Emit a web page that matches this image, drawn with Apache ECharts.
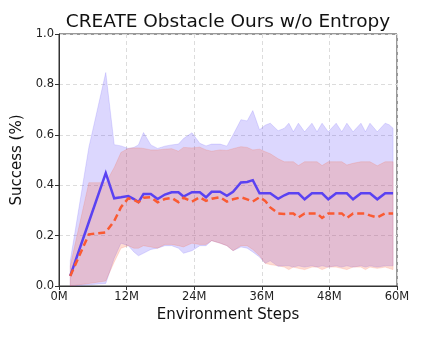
<!DOCTYPE html>
<html><head><meta charset="utf-8">
<script src="https://cdn.jsdelivr.net/npm/echarts@6/dist/echarts.min.js"></script>
<style>html,body{margin:0;padding:0;background:#fff}#c{width:422px;height:338px}</style>
</head><body><div id="c"></div>
<script>
// Environment steps (millions)
const steps = [2.0,5.3,8.3,9.8,11.0,12.3,13.3,14.1,15.0,16.3,17.5,18.8,20.0,21.2,22.1,23.6,25.0,26.1,27.1,28.6,29.8,30.9,32.3,33.4,34.4,35.6,36.6,37.5,38.9,40.0,40.8,41.6,42.5,43.6,44.9,45.8,46.7,47.8,49.2,50.2,51.1,52.2,53.6,54.4,55.2,56.5,57.9,58.6,59.3];
// solid blue series
const blueMean = [0.04,0.254,0.448,0.348,0.352,0.357,0.345,0.333,0.365,0.365,0.345,0.363,0.372,0.372,0.355,0.372,0.372,0.352,0.374,0.374,0.358,0.374,0.411,0.413,0.420,0.368,0.368,0.368,0.346,0.360,0.368,0.368,0.368,0.344,0.368,0.368,0.368,0.344,0.368,0.368,0.368,0.344,0.368,0.368,0.368,0.344,0.368,0.368,0.368];
const blueHigh = [0.10,0.55,0.847,0.561,0.556,0.546,0.55,0.56,0.609,0.56,0.546,0.555,0.56,0.563,0.585,0.608,0.566,0.556,0.563,0.563,0.555,0.60,0.66,0.655,0.696,0.62,0.638,0.646,0.616,0.626,0.646,0.612,0.646,0.612,0.646,0.612,0.646,0.612,0.646,0.612,0.646,0.612,0.646,0.612,0.646,0.612,0.646,0.640,0.626];
const blueLow = [0.0,0.005,0.01,0.11,0.17,0.16,0.135,0.12,0.13,0.145,0.15,0.16,0.16,0.15,0.13,0.14,0.16,0.16,0.18,0.17,0.16,0.14,0.155,0.15,0.135,0.115,0.09,0.10,0.078,0.08,0.08,0.075,0.08,0.075,0.08,0.075,0.08,0.075,0.08,0.075,0.08,0.075,0.08,0.075,0.08,0.075,0.08,0.08,0.08];
// dashed orange series
const orangeMean = [0.04,0.205,0.213,0.258,0.313,0.348,0.342,0.332,0.350,0.352,0.332,0.345,0.350,0.333,0.350,0.335,0.352,0.338,0.346,0.352,0.335,0.344,0.352,0.344,0.335,0.352,0.338,0.312,0.288,0.286,0.288,0.288,0.272,0.288,0.288,0.288,0.270,0.288,0.288,0.288,0.270,0.288,0.288,0.288,0.280,0.272,0.288,0.288,0.288];
const orangeHigh = [0.08,0.41,0.41,0.47,0.53,0.546,0.548,0.548,0.546,0.54,0.54,0.543,0.545,0.535,0.550,0.548,0.551,0.54,0.535,0.54,0.538,0.545,0.553,0.550,0.54,0.543,0.533,0.525,0.505,0.493,0.493,0.493,0.478,0.493,0.493,0.493,0.478,0.493,0.493,0.493,0.48,0.487,0.493,0.493,0.493,0.477,0.493,0.493,0.493];
const orangeLow = [0.0,0.01,0.02,0.095,0.15,0.16,0.15,0.15,0.16,0.155,0.15,0.165,0.165,0.16,0.155,0.17,0.165,0.165,0.18,0.17,0.16,0.14,0.16,0.16,0.145,0.12,0.09,0.085,0.08,0.075,0.065,0.075,0.07,0.065,0.075,0.075,0.065,0.075,0.075,0.07,0.065,0.075,0.075,0.065,0.075,0.07,0.075,0.07,0.065];
// axis ticks
const xTicks = [0,12,24,36,48,60];
const yTicks = [0,0.2,0.4,0.6,0.8,1.0];

const FONT = 'DejaVu Sans';
const BLUE = '#5a42f2';
const ORANGE = '#fa5a32';

function band(low, high, fill, z) {
  return {
    type: 'custom', silent: true, z: z, clip: true,
    data: steps.map((x, i) => [x, low[i], high[i]]),
    encode: { x: 0, y: [1, 2] },
    renderItem: function (params, api) {
      if (params.dataIndex !== 0) return null;
      const pts = [];
      for (let i = 0; i < steps.length; i++) pts.push(api.coord([steps[i], high[i]]));
      for (let i = steps.length - 1; i >= 0; i--) pts.push(api.coord([steps[i], low[i]]));
      return { type: 'polygon', shape: { points: pts }, style: { fill: fill, stroke: fill, lineWidth: 0.8 } };
    }
  };
}
function line(vals, color, type, z) {
  return {
    type: 'line', z: z, showSymbol: false, symbol: 'none', silent: true, animation: false,
    data: steps.map((x, i) => [x, vals[i]]),
    lineStyle: { color: color, width: 2.5, type: type, cap: 'butt', join: 'miter' }
  };
}

const chart = echarts.init(document.getElementById('c'), null, { renderer: 'canvas' });
chart.setOption({
  animation: false,
  title: {
    text: 'CREATE Obstacle Ours w/o Entropy', left: 223, top: 8, textAlign: 'center',
    textStyle: { fontFamily: FONT, fontSize: 18.5, fontWeight: 'normal', color: '#111' }
  },
  grid: { left: 59, right: 25, top: 34, bottom: 52, show: true, borderColor: '#333', borderWidth: 1, backgroundColor: 'transparent' },
  xAxis: {
    type: 'value', min: xTicks[0], max: xTicks[xTicks.length - 1], interval: 12,
    name: 'Environment Steps', nameLocation: 'middle', nameGap: 21,
    nameTextStyle: { fontFamily: FONT, fontSize: 15, color: '#111' },
    axisLine: { show: true, lineStyle: { color: '#333', width: 1 } },
    axisTick: { show: true, inside: false, length: 4, lineStyle: { color: '#333' } },
    axisLabel: { fontFamily: FONT, fontSize: 11.5, color: '#222', margin: 5, formatter: v => v + 'M' },
    splitLine: { show: true, lineStyle: { color: '#dcdcdc', type: [4, 3], width: 1 } }
  },
  yAxis: {
    type: 'value', min: yTicks[0], max: yTicks[yTicks.length - 1], interval: 0.2,
    name: 'Success (%)', nameLocation: 'middle', nameGap: 24, nameRotate: 90,
    nameTextStyle: { fontFamily: FONT, fontSize: 15, color: '#111' },
    axisLine: { show: true, lineStyle: { color: '#333', width: 1 } },
    axisTick: { show: true, inside: false, length: 4, lineStyle: { color: '#333' } },
    axisLabel: { fontFamily: FONT, fontSize: 11.5, color: '#222', margin: 5, formatter: v => v.toFixed(1) },
    splitLine: { show: true, lineStyle: { color: '#dcdcdc', type: [4, 3], width: 1 } }
  },
  series: [
    band(blueLow, blueHigh, 'rgba(95,75,250,0.22)', 1),
    band(orangeLow, orangeHigh, 'rgba(250,95,55,0.22)', 2),
    line(blueMean, BLUE, 'solid', 3),
    line(orangeMean, ORANGE, [7, 4], 4)
  ]
});
</script></body></html>
